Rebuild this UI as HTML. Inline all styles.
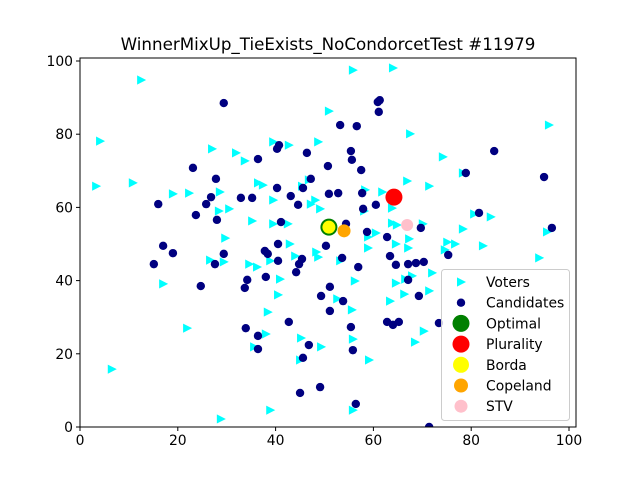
<!DOCTYPE html>
<html><head><meta charset="utf-8"><style>
body{margin:0;background:#fff}
svg{display:block;font-family:"DejaVu Sans","Liberation Sans",sans-serif}
</style></head><body>
<svg id="chart" width="640" height="480">
<rect width="640" height="480" fill="#fff"/>
<text x="328" y="50" font-size="16.7" text-anchor="middle">WinnerMixUp_TieExists_NoCondorcetTest #11979</text>
<g id="plot"></g>
</svg>
<script>
const voterX=[12.5,4.1,3.3,10.8,27.0,31.9,33.7,39.5,42.7,48.7,50.9,36.4,37.4,19.0,22.3,28.6,39.5,45.4,46.8,48.1,47.2,49.1,28.4,30.5,35.2,39.5,42.5,29.7,42.9,55.8,64.0,67.5,74.2,95.9,78.3,66.9,71.4,58.3,61.8,63.8,58.1,80.6,84.0,63.8,64.8,70.1,78.3,60.5,58.9,67.3,75.1,76.7,95.5,64.6,82.4,26.6,29.4,34.6,36.2,38.9,44.0,48.3,48.7,17.0,40.9,40.5,38.4,21.9,38.0,45.2,35.6,49.3,45.0,6.5,38.9,28.8,58.9,67.1,74.6,93.9,53.2,72.0,67.9,66.5,64.6,56.2,71.4,66.3,63.4,52.6,55.6,70.3,55.8,68.5,59.1,55.8];
const voterY=[94.8,78.1,65.8,66.7,76.0,74.9,72.7,77.9,77.0,77.9,86.3,66.7,66.1,63.7,63.9,64.2,62.0,65.8,67.5,62.0,60.9,59.6,59.0,59.6,56.3,55.5,55.5,51.6,50.0,97.5,98.1,80.1,73.8,82.5,69.4,67.2,65.8,64.8,64.2,59.8,59.0,58.2,57.4,55.7,55.2,55.5,54.1,53.0,51.9,51.4,50.5,50.0,53.3,50.0,49.5,45.6,45.1,44.5,43.7,45.4,46.7,47.8,46.4,39.1,40.4,36.1,31.4,27.0,25.4,24.3,21.9,21.9,18.3,15.8,4.6,2.2,48.9,48.9,48.4,46.2,45.4,42.1,41.3,40.4,39.3,39.9,37.2,36.3,34.4,35.0,32.0,26.2,24.0,23.2,18.3,4.6];
const candX=[29.4,40.7,40.3,36.4,46.4,23.1,50.7,27.8,47.2,40.3,45.6,50.9,26.8,25.8,32.9,35.2,43.1,44.6,16.0,23.7,28.0,41.1,40.5,17.0,61.3,60.9,61.1,53.2,56.6,55.4,55.6,57.5,84.7,78.9,94.9,52.8,57.7,60.5,57.9,54.4,58.7,62.8,69.7,81.6,96.5,50.3,19.0,15.1,29.4,27.6,37.8,38.4,40.5,45.4,44.8,44.2,38.0,34.2,33.7,24.7,49.3,51.1,51.1,42.7,33.9,36.4,36.4,46.8,45.6,49.1,45.0,53.6,56.9,63.4,64.6,67.1,68.7,70.3,75.3,67.1,53.8,69.3,55.4,62.8,64.0,65.2,73.4,55.8,56.4,71.4];
const candY=[88.5,77.0,76.0,73.2,74.9,70.8,71.3,67.8,67.8,65.3,65.3,63.7,62.8,60.9,62.6,62.6,63.1,60.7,60.9,57.9,56.6,56.0,50.0,49.5,89.3,88.8,86.1,82.5,82.2,75.4,73.0,70.2,75.4,69.4,68.3,63.9,63.9,60.7,59.6,55.5,53.3,51.9,54.4,58.5,54.4,49.5,47.5,44.5,47.3,44.5,48.1,47.3,45.4,45.9,44.5,42.3,41.0,40.2,38.0,38.5,35.8,38.3,31.7,28.7,27.0,24.9,21.3,22.4,18.9,10.9,9.3,46.2,43.7,46.7,44.3,44.5,44.8,45.1,47.0,40.2,34.4,35.8,27.3,28.7,27.9,28.7,28.4,21.0,6.3,0];
const winnerNames=["Optimal","Plurality","Borda","Copeland","STV"];
const winnerX=[50.9,64.2,50.9,54.0,66.9];
const winnerY=[54.6,62.8,54.6,53.6,55.2];
const xTicks=[0,20,40,60,80,100];
const yTicks=[0,20,40,60,80,100];

const L=80,R=576,T=58,B=427;
const sx=v=>L+v*4.89, sy=v=>B-v*3.66;
const NS="http://www.w3.org/2000/svg";
const g=document.getElementById('plot');
function mk(tag,attrs,parent){const e=document.createElementNS(NS,tag);for(const k in attrs)e.setAttribute(k,attrs[k]);(parent||g).appendChild(e);return e;}
const clip=mk('clipPath',{id:'cp'});mk('rect',{x:L,y:T,width:R-L,height:B-T},clip);
const pts=mk('g',{'clip-path':'url(#cp)'});
function tri(cx,cy){return `${cx-4},${cy-4.6} ${cx+5},${cy} ${cx-4},${cy+4.6}`;}
voterX.forEach((v,i)=>{const e=mk('polygon',{points:tri(sx(v),sy(voterY[i])),fill:'#00ffff'},pts);

});
candX.forEach((v,i)=>{const e=mk('circle',{cx:sx(v),cy:sy(candY[i]),r:4.2,fill:'#000080'},pts);

});
const wStyle=[{fill:'green',r:8.5},{fill:'red',r:8.5},{fill:'yellow',r:6.5},{fill:'orange',r:6.5},{fill:'pink',r:6}];
winnerX.forEach((v,i)=>{const e=mk('circle',{cx:sx(v),cy:sy(winnerY[i]),r:wStyle[i].r,fill:wStyle[i].fill},pts);

});
const frame=mk('rect',{x:L,y:T,width:R-L,height:B-T,fill:'none',stroke:'#000','stroke-width':1});


xTicks.forEach(t=>{const x=sx(t);mk('line',{x1:x,x2:x,y1:B,y2:B+4,stroke:'#000'});
const e=mk('text',{x:x,y:B+18,'font-size':'13.9','text-anchor':'middle'});e.textContent=t;

});
yTicks.forEach(t=>{const y=sy(t);mk('line',{x1:L-4,x2:L,y1:y,y2:y,stroke:'#000'});
const e=mk('text',{x:L-7,y:y+5,'font-size':'13.9','text-anchor':'end'});e.textContent=t;

});
// legend
const lg=mk('g',{});


mk('rect',{x:441.5,y:269.5,width:128,height:151,rx:3,fill:'#fff','fill-opacity':0.8,stroke:'#ccc'},lg);
const labels=['Voters','Candidates'].concat(winnerNames);
labels.forEach((lab,i)=>{const y=282+i*20.7;
if(i==0)mk('polygon',{points:tri(461,y)},lg).setAttribute('fill','#00ffff');
else if(i==1)mk('circle',{cx:461,cy:y,r:4.2,fill:'#000080'},lg);
else mk('circle',{cx:461,cy:y,r:[8.5,8.5,8,7,6.5][i-2],fill:wStyle[i-2].fill},lg);
const e=mk('text',{x:486,y:y+5,'font-size':'13.9'},lg);e.textContent=lab;

});
</script>
</body></html>
